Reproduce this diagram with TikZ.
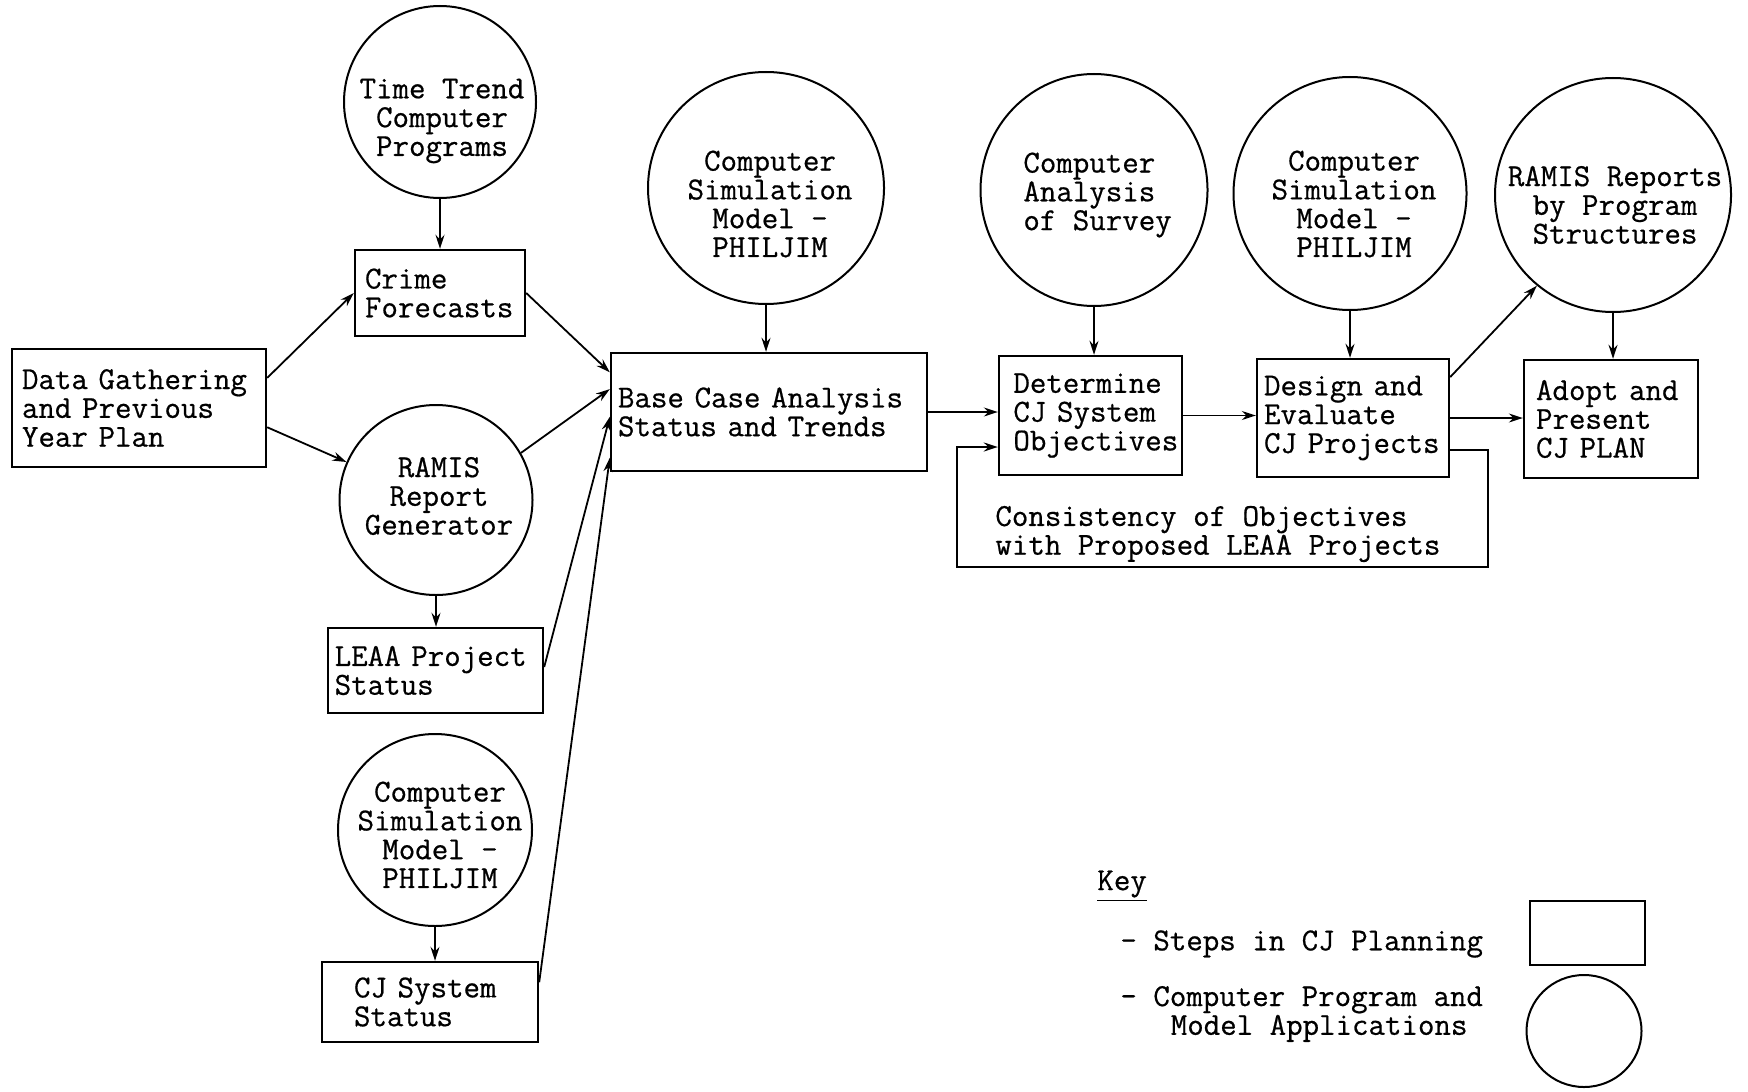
\documentclass[tikz,border=0pt]{standalone}
\usepackage{fontspec}
\usetikzlibrary{shapes.geometric,arrows.meta,calc}
\newfontfamily\diagtt{Latin Modern Mono}[FakeBold=0.6]
\newcommand{\diagfont}{\diagtt\fontsize{16pt}{14.4pt}\selectfont}
\begin{document}
\begin{tikzpicture}[x=0.5pt,y=-0.5pt,
  stepbox/.style={draw, line width=1.2pt, rectangle, align=left, inner ysep=0pt, font=\diagfont},
  progcirc/.style={draw, ellipse, line width=1pt, inner sep=0pt},
  lbl/.style={align=center, inner sep=0pt, font=\diagfont},
  lbll/.style={align=left, inner sep=0pt, font=\diagfont},
  arr/.style={-{Stealth[length=7pt,width=4.5pt]}, line width=0.9pt}]
\useasboundingbox (0,0) rectangle (1748,1091);
\fill[white] (0,0) rectangle (1748,1091);

% --- step boxes ---
\node[stepbox, inner xsep=5pt, text width=117pt, minimum height=59pt] (data) at (139,408) {Data Gathering\\and Previous\\Year Plan};
\node[stepbox, inner xsep=5pt, text width=75pt, minimum height=43pt] (crime) at (440,293) {Crime\\Forecasts};
\node[stepbox, inner xsep=3.5pt, text width=151pt, minimum height=59pt] (base) at (769,412) {Base Case Analysis\\Status and Trends};
\node[stepbox, inner xsep=7.2pt, text width=77.1pt, minimum height=59.5pt] (determine) at (1090.5,415.5) {Determine\\CJ System\\Objectives};
\node[stepbox, inner xsep=3.5pt, text width=89pt, minimum height=59pt] (design) at (1353,418) {Design and\\Evaluate\\CJ Projects};
\node[stepbox, inner xsep=6pt, text width=75pt, minimum height=59pt] (adopt) at (1611,419) {Adopt and\\Present\\CJ PLAN};
\node[stepbox, inner xsep=3.35pt, text width=100.8pt, minimum height=42.5pt] (leaa) at (435.5,670.5) {LEAA Project\\Status};
\node[stepbox, inner xsep=16pt, text width=76pt, minimum height=40pt] (cjstatus) at (430,1002) {CJ System\\Status};

% --- program circles ---
\node[progcirc, minimum width=96pt, minimum height=96pt] (timetrend) at (440,102) {};
\node[lbl] (timetrendt) at (442,121) {Time Trend\\Computer\\Programs};
\node[progcirc, minimum width=118pt, minimum height=116pt] (compsimA) at (766,188) {};
\node[lbl] (compsimAt) at (770,204) {Computer\\Simulation\\Model -\\PHILJIM};
\node[progcirc, minimum width=113.5pt, minimum height=116pt] (survey) at (1094,190) {};
\node[lbll, anchor=west] (surveyt) at (1023,195) {Computer\\Analysis\\of Survey};
\node[progcirc, minimum width=116.5pt, minimum height=116.5pt] (compsimB) at (1350,193.5) {};
\node[lbl] (compsimBt) at (1354,204) {Computer\\Simulation\\Model -\\PHILJIM};
\node[progcirc, minimum width=118pt, minimum height=117pt] (ramisrep) at (1613,195) {};
\node[lbl] (ramisrept) at (1615,205) {RAMIS Reports\\by Program\\Structures};
\node[progcirc, minimum width=96.5pt, minimum height=95pt] (ramisgen) at (436,500) {};
\node[lbl] (ramisgent) at (439,496) {RAMIS\\Report\\Generator};
\node[progcirc, minimum width=97pt, minimum height=96pt] (compsimC) at (435,830) {};
\node[lbl] (compsimCt) at (440,835) {Computer\\Simulation\\Model -\\PHILJIM};

% --- connectors ---
\draw[arr] (timetrend.south) -- (timetrend.south |- crime.north);
\draw[arr] ($(data.north east)!0.25!(data.south east)$) -- (crime.west);
\draw[arr] ($(data.north east)!0.66!(data.south east)$) -- (ramisgen.157);
\draw[arr] (crime.east) -- ($(base.north west)!0.17!(base.south west)$);
\draw[arr] (ramisgen.29) -- ($(base.north west)!0.31!(base.south west)$);
\draw[arr] (ramisgen.south) -- (ramisgen.south |- leaa.north);
\draw[arr] ($(leaa.north east)!0.46!(leaa.south east)$) -- ($(base.north west)!0.54!(base.south west)$);
\draw[arr] (compsimC.south) -- (compsimC.south |- cjstatus.north);
\draw[arr] ($(cjstatus.north east)!0.26!(cjstatus.south east)$) -- ($(base.north west)!0.88!(base.south west)$);
\draw[arr] (compsimA.south) -- (compsimA.south |- base.north);
\draw[arr] (base.east) -- (determine.west |- base.east);
\draw[arr] (survey.south) -- (survey.south |- determine.north);
\draw[arr] (determine.east) -- (design.west |- determine.east);
\draw[arr] (compsimB.south) -- (compsimB.south |- design.north);
\draw[arr] (design.east) -- (adopt.west |- design.east);
\draw[arr] ($(design.north east)!0.16!(design.south east)$) -- (ramisrep.230);
\draw[arr] (ramisrep.south) -- (ramisrep.south |- adopt.north);

% feedback loop
\coordinate (fbA) at (1488,450);
\coordinate (fbB) at (1488,567);
\coordinate (fbC) at (957,567);
\coordinate (fbD) at (957,447);
\draw[arr, line width=1.1pt] (design.east |- fbA) -- (fbA) -- (fbB) -- (fbC) -- (fbD) -- (determine.west |- fbD);
\node[lbll, anchor=west] (consist) at (995,534) {Consistency of Objectives\\with Proposed LEAA Projects};

% --- key ---
\node[lbll, anchor=west] (keyt) at (1097,886) {\underline{Key}};
\node[lbll, anchor=west] (keystep) at (1120,944) {- Steps in CJ Planning};
\node[lbll, anchor=west] (keyprog) at (1120,1014) {- Computer Program and\\\hspace*{25.2pt}Model Applications};
\node[draw, line width=1.2pt, rectangle, minimum width=57.5pt, minimum height=32pt, inner sep=0pt] (keybox) at (1587.5,933) {};
\node[progcirc, minimum width=57.5pt, minimum height=56pt] (keycirc) at (1584,1031) {};
\end{tikzpicture}
\end{document}
